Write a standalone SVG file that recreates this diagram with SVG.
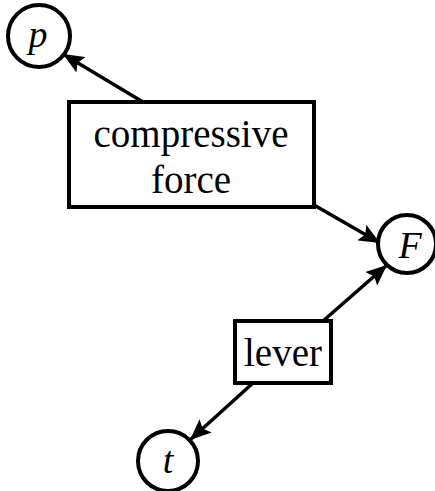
<svg xmlns="http://www.w3.org/2000/svg" width="435" height="491" viewBox="0 0 435 491">
<defs>
<marker id="ah" markerUnits="userSpaceOnUse" markerWidth="22" markerHeight="18" refX="21" refY="9" orient="auto">
<path d="M0,0 L21,9 L0,18 L4,9 Z" fill="#000"/>
</marker>
<style>
.node{fill:#fff;stroke:#000;stroke-width:4}
.lbl{font-family:"Liberation Serif","Times New Roman",serif;font-size:39px;fill:#000;text-anchor:middle}
.var{font-family:"Liberation Serif","Times New Roman",serif;font-size:38px;font-style:italic;fill:#000;text-anchor:middle}
.edge{stroke:#000;stroke-width:3.5;fill:none;marker-end:url(#ah)}
</style>
</defs>
<rect width="435" height="491" fill="#fff"/>
<g id="connectors">
<line class="edge" x1="143" y1="102" x2="63" y2="54"/>
<line class="edge" x1="314" y1="205" x2="380" y2="243"/>
<line class="edge" x1="323" y1="321" x2="387" y2="265"/>
<line class="edge" x1="253" y1="383" x2="190" y2="440"/>
</g>
<g id="p">
<circle class="node" cx="39" cy="36" r="31"/>
<text class="var" x="38" y="47">p</text>
</g>
<g id="compressive_force">
<rect class="node" x="69" y="102" width="245" height="105"/>
<text class="lbl" x="191" y="147">compressive</text>
<text class="lbl" x="191" y="193">force</text>
</g>
<g id="F">
<circle class="node" cx="407" cy="244" r="29"/>
<text class="var" x="410" y="258">F</text>
</g>
<g id="lever">
<rect class="node" x="235" y="321" width="96" height="62"/>
<text class="lbl" x="283" y="366">lever</text>
</g>
<g id="t">
<circle class="node" cx="168" cy="461" r="30"/>
<text class="var" x="168" y="473">t</text>
</g>
</svg>
